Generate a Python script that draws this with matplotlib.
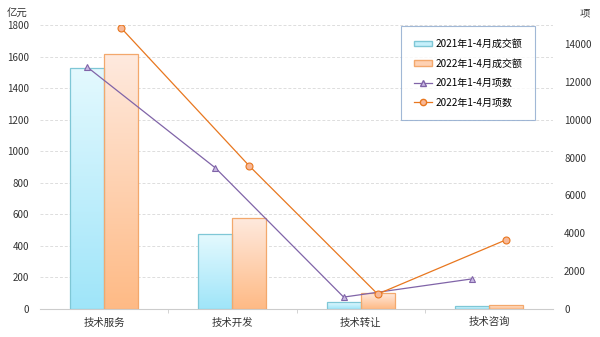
import matplotlib.pyplot as plt
import numpy as np
from matplotlib.colors import LinearSegmentedColormap
from matplotlib.lines import Line2D
from matplotlib.patches import Patch

plt.rcParams['font.family'] = ['Noto Sans CJK SC', 'DejaVu Sans']

categories = ["技术服务", "技术开发", "技术转让", "技术咨询"]
amount_2021 = [1527, 475, 44, 19]
amount_2022 = [1616, 577, 101, 25]
count_2021 = [12780, 7450, 630, 1590]
count_2022 = [14840, 7550, 790, 3650]
left_ticks = list(range(0, 1801, 200))
right_ticks = list(range(0, 14001, 2000))

labels = ["2021年1-4月成交额", "2022年1-4月成交额", "2021年1-4月项数", "2022年1-4月项数"]

fig = plt.figure(figsize=(6, 3.37), dpi=100)
ax = fig.add_axes([0.0667, 0.083, 0.855, 0.843])
ax2 = ax.twinx()

x = np.arange(len(categories))
w = 0.265

cmap21 = LinearSegmentedColormap.from_list("c21", ["#9fe5f9", "#e4f9fe"])
cmap22 = LinearSegmentedColormap.from_list("c22", ["#ffba85", "#feeadf"])
grad = np.linspace(0, 1, 256).reshape(-1, 1)


def gradient_bars(xs, vals, cmap, edge):
    bars = ax.bar(xs, vals, width=w, facecolor="none", edgecolor=edge, linewidth=0.9, zorder=3)
    for b in bars:
        x0, y0 = b.get_x(), b.get_y()
        im = ax.imshow(grad, cmap=cmap, aspect="auto", origin="lower",
                       extent=[x0, x0 + b.get_width(), y0, y0 + b.get_height()], zorder=2)
        im.set_clip_path(b)
    return bars


gradient_bars(x - w / 2, amount_2021, cmap21, "#7fc7d6")
gradient_bars(x + w / 2, amount_2022, cmap22, "#f3a86c")

ax.set_xlim(-0.5, 3.5)
ax.set_ylim(0, 1800)
ax.set_yticks(left_ticks)
ax.grid(axis="y", color="#dddddd", linestyle=(0, (3, 2)), linewidth=0.7)
ax.set_axisbelow(True)
ax.set_xticks(x)
ax.set_xticklabels(categories, fontsize=7.5, color="#333333")
ax.set_xticks(np.arange(0.5, 3.5, 1), minor=True)
ax.tick_params(axis="x", which="major", length=0, pad=6)
ax.tick_params(axis="x", which="minor", length=3, color="#cccccc")
ax.tick_params(axis="y", length=0, labelsize=7, labelcolor="#333333", pad=8)
for s in ["top", "right", "left"]:
    ax.spines[s].set_visible(False)
ax.spines["bottom"].set_color("#cccccc")

ax2.plot(x - w / 2, count_2021, color="#8064a8", linewidth=0.9, marker="^", markersize=5,
         markerfacecolor="#c9b8e3", markeredgecolor="#8064a8", markeredgewidth=0.8, zorder=4)
ax2.plot(x + w / 2, count_2022, color="#e8771f", linewidth=0.9, marker="o", markersize=5,
         markerfacecolor="#f7b898", markeredgecolor="#e8771f", markeredgewidth=0.8, zorder=4)
ax2.set_ylim(0, 15000)
ax2.set_yticks(right_ticks)
ax2.tick_params(axis="y", length=0, labelsize=7, labelcolor="#333333", pad=8)
for s in ["top", "right", "left", "bottom"]:
    ax2.spines[s].set_visible(False)

fig.text(0.012, 0.975, "亿元", fontsize=7.5, color="#333333", va="top")
fig.text(0.967, 0.975, "项", fontsize=7.5, color="#333333", va="top")

handles = [
    Patch(facecolor="#c6f0fb", edgecolor="#7fc7d6"),
    Patch(facecolor="#fed1b3", edgecolor="#f3a86c"),
    Line2D([], [], color="#8064a8", marker="^", markersize=4.5,
           markerfacecolor="#c9b8e3", linewidth=0.9),
    Line2D([], [], color="#e8771f", marker="o", markersize=4.5,
           markerfacecolor="#f7b898", linewidth=0.9),
]
leg = ax2.legend(handles, labels, loc="upper right", bbox_to_anchor=(0.967, 1.0),
                 fontsize=7.2, frameon=True, fancybox=False, handlelength=1.8, handleheight=0.5,
                 borderpad=1.3, labelspacing=0.95, handletextpad=0.3, borderaxespad=0.1)
leg.get_frame().set_edgecolor("#8aa6cc")
leg.get_frame().set_linewidth(0.8)

fig.savefig("out.png", dpi=100)
